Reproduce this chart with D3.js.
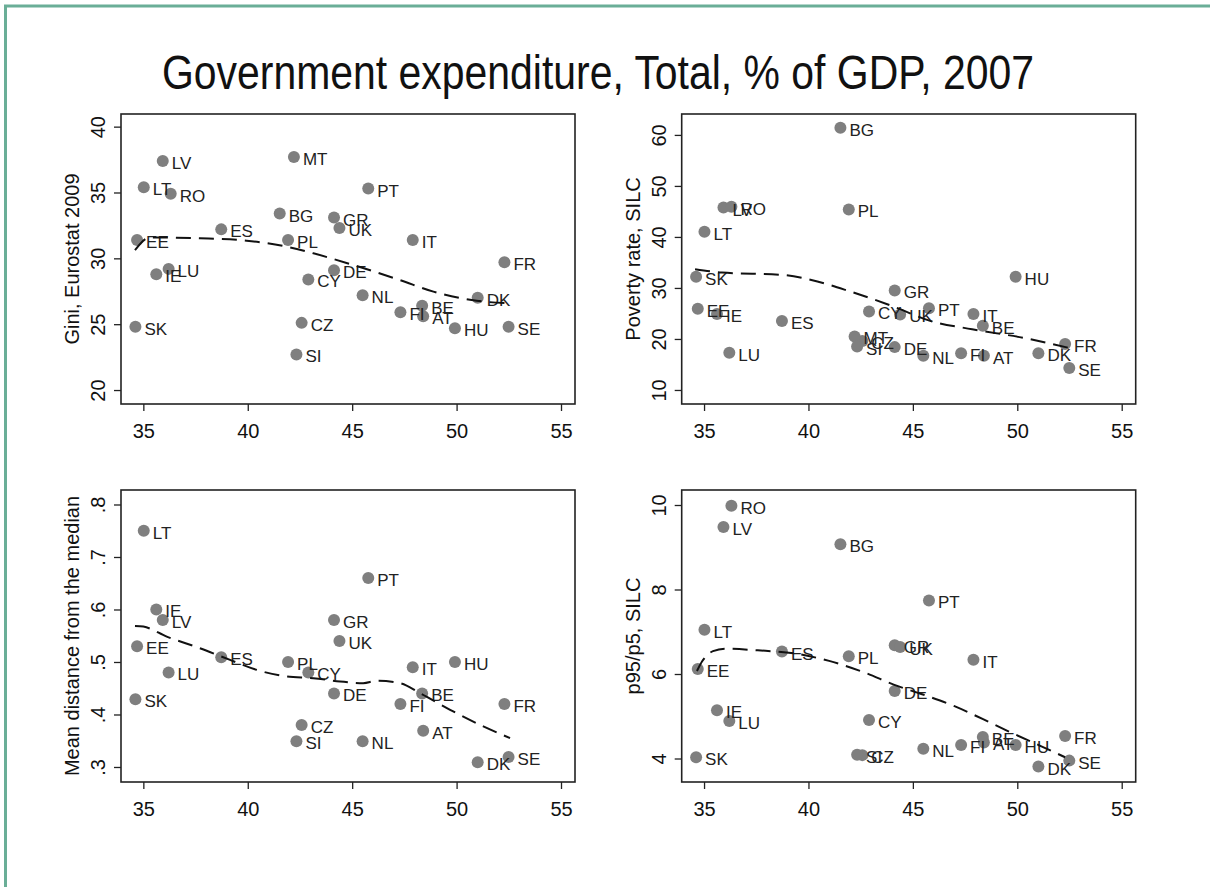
<!DOCTYPE html>
<html>
<head>
<meta charset="utf-8">
<script src="https://cdn.jsdelivr.net/npm/d3@7"></script>
<style>
  html, body { margin: 0; padding: 0; background: #fff; }
  svg { display: block; }
  text { font-family: "Liberation Sans", Arial, Helvetica, sans-serif; }
</style>
</head>
<body>
<svg id="chart" width="1210" height="887"></svg>
<script>
// ---------------- DATA ----------------
const title = "Government expenditure, Total, % of GDP, 2007";
const countries = ["AT","BE","BG","CY","CZ","DE","DK","EE","ES","FI","FR","GR","HU","IE","IT","LT","LU","LV","MT","NL","PL","PT","RO","SE","SI","SK","UK"];
const govExp   = [48.40,48.35,41.53,42.90,42.58,44.13,51.01,34.70,38.73,47.31,52.29,44.13,49.92,35.62,47.90,35.02,36.21,35.93,42.21,45.50,41.93,45.77,36.31,52.49,42.33,34.62,44.39];
const gini     = [25.6,26.4,33.4,28.4,25.1,29.1,27.0,31.4,32.2,25.9,29.7,33.1,24.7,28.8,31.4,35.4,29.2,37.4,37.7,27.2,31.4,35.3,34.9,24.8,22.7,24.8,32.3];
const poverty  = [16.7,22.6,61.4,25.4,19.6,18.4,17.2,25.9,23.5,17.2,19.0,29.5,32.2,24.9,24.9,41.0,17.3,45.75,20.5,16.7,45.4,26.0,45.9,14.3,18.5,32.2,24.8];
const meanDist = [0.369,0.44,null,0.48,0.38,0.44,0.309,0.53,0.509,0.42,0.42,0.58,0.50,0.60,0.49,0.75,0.48,0.58,null,0.349,0.50,0.66,null,0.319,0.349,0.429,0.54];
const p95p5    = [4.38,4.51,9.07,4.91,4.08,5.60,3.81,6.12,6.53,4.32,4.53,6.68,4.32,5.14,6.34,7.05,4.89,9.48,null,4.23,6.42,7.74,9.98,3.95,4.09,4.03,6.64];

// lowess curves
const lowGiniX = [34.60,35.32,37.71,39.95,41.86,43.14,45.06,47.29,48.89,50.96,52.56];
const lowGiniY = [30.63,31.59,31.52,31.34,30.89,30.38,29.49,28.35,27.47,26.78,26.58];
const lowPovX  = [34.57,35.86,38.77,40.14,42.02,44.08,45.79,47.84,50.41,52.55];
const lowPovY  = [33.66,33.01,32.55,31.57,29.28,26.34,23.59,21.90,20.13,18.17];
const lowMdX   = [34.60,35.00,36.12,37.71,39.15,40.43,41.86,43.14,44.42,45.53,46.17,47.29,48.25,49.69,51.28,52.56];
const lowMdY   = [0.5687,0.5674,0.5484,0.5262,0.5040,0.4850,0.4724,0.4692,0.4629,0.4597,0.4641,0.4597,0.4407,0.4090,0.3773,0.3551];
const lowP9X   = [34.66,34.91,35.43,36.03,37.57,39.28,40.99,42.71,44.08,45.44,46.99,48.36,49.55,51.10,52.29];
const lowP9Y   = [6.07,6.30,6.54,6.60,6.56,6.49,6.31,6.03,5.75,5.52,5.24,4.93,4.65,4.30,4.03];

const xTicks = [35,40,45,50,55];
const giniTicks = [20,25,30,35,40];
const povTicks = [10,20,30,40,50,60];
const mdTicks = [0.3,0.4,0.5,0.6,0.7,0.8];
const p9Ticks = [4,6,8,10];

const yTitles = ["Gini, Eurostat 2009","Poverty rate, SILC","Mean distance from the median","p95/p5, SILC"];

// ---------------- LAYOUT ----------------
const svg = d3.select("#chart");
const W = 1210, H = 887;
svg.append("rect").attr("width", W).attr("height", H).attr("fill", "#fff");

// green frame (top + left)
const frameCol = "#6aae97";
svg.append("line").attr("x1", 4).attr("x2", W).attr("y1", 6).attr("y2", 6).attr("stroke", frameCol).attr("stroke-width", 3);
svg.append("line").attr("x1", 5.5).attr("x2", 5.5).attr("y1", 5).attr("y2", H).attr("stroke", frameCol).attr("stroke-width", 3);

svg.append("text").attr("x", 598).attr("y", 89).attr("text-anchor", "middle")
  .attr("font-size", 48).attr("fill", "#111")
  .attr("textLength", 872).attr("lengthAdjust", "spacingAndGlyphs").text(title);

const xDomain = [33.93, 55.67];
const panels = [
  {x0:121, x1:575, y0:114, y1:404, yDom:[18.94,40.96], ys:gini, yt:giniTicks, fmt:d=>d3.format("d")(d), lx:lowGiniX, ly:lowGiniY, title:yTitles[0]},
  {x0:681.7, x1:1135.7, y0:114, y1:404, yDom:[7.25,64.1], ys:poverty, yt:povTicks, fmt:d=>d3.format("d")(d), lx:lowPovX, ly:lowPovY, title:yTitles[1]},
  {x0:121, x1:575, y0:490, y1:782, yDom:[0.2714,0.8276], ys:meanDist, yt:mdTicks, fmt:d=>d3.format(".1f")(d).replace(/^0/,""), lx:lowMdX, ly:lowMdY, title:yTitles[2]},
  {x0:681.7, x1:1135.7, y0:490, y1:782, yDom:[3.444,10.355], ys:p95p5, yt:p9Ticks, fmt:d=>d3.format("d")(d), lx:lowP9X, ly:lowP9Y, title:yTitles[3]}
];

panels.forEach(p => {
  const x = d3.scaleLinear().domain(xDomain).range([p.x0, p.x1]);
  const y = d3.scaleLinear().domain(p.yDom).range([p.y1, p.y0]);
  const g = svg.append("g");

  // x axis
  const xa = g.append("g").attr("transform", `translate(0,${p.y1})`)
    .call(d3.axisBottom(x).tickValues(xTicks).tickSize(7).tickPadding(4).tickFormat(d3.format("d")));
  xa.select(".domain").remove();
  xa.selectAll("line").attr("stroke", "#222").attr("stroke-width", 1.3);
  xa.selectAll("text").attr("font-size", 20).attr("fill", "#111").attr("font-family", null)
    .attr("dy", null).attr("y", 34);

  // y axis
  const ya = g.append("g").attr("transform", `translate(${p.x0},0)`)
    .call(d3.axisLeft(y).tickValues(p.yt).tickSize(7).tickFormat(p.fmt));
  ya.select(".domain").remove();
  ya.selectAll("line").attr("stroke", "#222").attr("stroke-width", 1.3);
  ya.selectAll("text").attr("font-size", 20).attr("fill", "#111").attr("font-family", null)
    .attr("x", null).attr("dy", null).attr("text-anchor", "middle")
    .attr("transform", "translate(-16,0) rotate(-90)");

  // y title
  g.append("text")
    .attr("transform", `translate(${p.x0 - 42},${(p.y0 + p.y1) / 2}) rotate(-90)`)
    .attr("text-anchor", "middle").attr("font-size", 20).attr("fill", "#111").text(p.title);

  // box
  g.append("rect").attr("x", p.x0).attr("y", p.y0).attr("width", p.x1 - p.x0).attr("height", p.y1 - p.y0)
    .attr("fill", "none").attr("stroke", "#222").attr("stroke-width", 1.6);

  const pts = countries.map((c, i) => ({c, gx: govExp[i], v: p.ys[i]})).filter(d => d.v != null);

  g.append("g").selectAll("circle").data(pts).join("circle")
    .attr("cx", d => x(d.gx)).attr("cy", d => y(d.v)).attr("r", 6).attr("fill", "#7f7f7f");

  g.append("g").selectAll("text").data(pts).join("text")
    .attr("x", d => x(d.gx) + 9).attr("y", d => y(d.v) + 8)
    .attr("font-size", 17).attr("fill", "#222").text(d => d.c);

  const low = p.lx.map((v, i) => [v, p.ly[i]]);
  g.append("path").datum(low)
    .attr("d", d3.line().x(d => x(d[0])).y(d => y(d[1])).curve(d3.curveMonotoneX))
    .attr("fill", "none").attr("stroke", "#111").attr("stroke-width", 2).attr("stroke-dasharray", "15,8");
});
</script>
</body>
</html>
